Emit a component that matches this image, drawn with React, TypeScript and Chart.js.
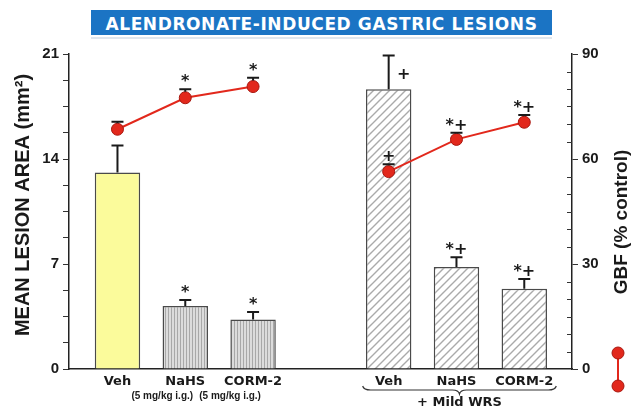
import React, { useEffect, useRef } from "react";
import { Chart, registerables } from "chart.js";

Chart.register(...registerables);

// ---- data ----
const title = "ALENDRONATE-INDUCED GASTRIC LESIONS";
const categories = ["Veh", "NaHS", "CORM-2", "", "Veh", "NaHS", "CORM-2"];
const positions = [0, 1, 2, 3, 4, 5, 6];
const groups = [0, 0, 0, -1, 1, 1, 1];
const subLabels = ["", "(5 mg/kg i.g.)", "(5 mg/kg i.g.)", "", "", "", ""];
const groupLabel = "+ Mild WRS";
const lesionArea = [13.1, 4.2, 3.3, null, 18.65, 6.8, 5.35];
const lesionSE = [1.8, 0.4, 0.5, null, 2.25, 0.65, 0.65];
const gbf = [68.5, 77.5, 80.7, null, 56.4, 65.6, 70.5];
const gbfSE = [2.15, 2.4, 2.5, null, 2.1, 1.9, 2.1];
const lesionMarks = ["", "*", "*", "", "+", "*+", "*+"];
const gbfMarks = ["", "*", "*", "", "+", "*+", "*+"];
const leftTitle = "MEAN LESION AREA (mm\u00B2)";
const rightTitle = "GBF (% control)";
const leftMax = 21;
const leftMajor = 7;
const leftMinor = 1.75;
const rightMax = 90;
const rightMajor = 30;
const rightMinor = 5;

const RED = "#e2281c";
const RED_DARK = "#a8170f";
const INK = "#1a1a1a";

function isMultiple(v: number, step: number) {
  return Math.abs(v - Math.round(v / step) * step) < 1e-6;
}

function makeStripe(): CanvasPattern | string {
  const c = document.createElement("canvas");
  c.width = 3;
  c.height = 4;
  const g = c.getContext("2d");
  if (!g) return "#d0d0d0";
  g.fillStyle = "#dcdcdc";
  g.fillRect(0, 0, 3, 4);
  g.fillStyle = "#a8a8a8";
  g.fillRect(0, 0, 1, 4);
  return g.createPattern(c, "repeat") || "#d0d0d0";
}

function makeHatch(): CanvasPattern | string {
  const c = document.createElement("canvas");
  c.width = 8;
  c.height = 8;
  const g = c.getContext("2d");
  if (!g) return "#ffffff";
  g.fillStyle = "#ffffff";
  g.fillRect(0, 0, 8, 8);
  g.strokeStyle = "#aaaaaa";
  g.lineWidth = 1.4;
  g.beginPath();
  g.moveTo(0, 8);
  g.lineTo(8, 0);
  g.moveTo(-2, 2);
  g.lineTo(2, -2);
  g.moveTo(6, 10);
  g.lineTo(10, 6);
  g.stroke();
  return g.createPattern(c, "repeat") || "#ffffff";
}

const annotationPlugin = {
  id: "annotations",
  afterDatasetsDraw(chart: any) {
    const ctx = chart.ctx;
    const xs = chart.scales.x;
    const yl = chart.scales.y;
    const yr = chart.scales.y2;
    ctx.save();
    ctx.strokeStyle = INK;
    ctx.fillStyle = INK;
    ctx.lineWidth = 2;
    ctx.textAlign = "center";
    ctx.textBaseline = "alphabetic";
    ctx.font = "bold 16px 'DejaVu Sans', sans-serif";
    const capHalf = 6;
    positions.forEach((p, i) => {
      const v = lesionArea[i];
      if (v == null) return;
      const px = xs.getPixelForValue(p);
      const top = yl.getPixelForValue(v);
      const cap = yl.getPixelForValue(v + (lesionSE[i] || 0));
      ctx.beginPath();
      ctx.moveTo(px, top);
      ctx.lineTo(px, cap);
      ctx.moveTo(px - capHalf, cap);
      ctx.lineTo(px + capHalf, cap);
      ctx.stroke();
      const m = lesionMarks[i];
      if (m) {
        if (m === "+") ctx.fillText(m, px + 15, cap + 23);
        else ctx.fillText(m, px, cap - 3);
      }
    });
    const radius = 6;
    positions.forEach((p, i) => {
      const v = gbf[i];
      if (v == null) return;
      const px = xs.getPixelForValue(p);
      const top = yr.getPixelForValue(v) - radius;
      const cap = yr.getPixelForValue(v + (gbfSE[i] || 0));
      ctx.beginPath();
      ctx.moveTo(px, top);
      ctx.lineTo(px, cap);
      ctx.moveTo(px - capHalf, cap);
      ctx.lineTo(px + capHalf, cap);
      ctx.stroke();
      const m = gbfMarks[i];
      if (m) ctx.fillText(m, px, cap - 3);
    });
    ctx.restore();
  },
  afterDraw(chart: any) {
    const ctx = chart.ctx;
    const xs = chart.scales.x;
    const yr = chart.scales.y2;
    const area = chart.chartArea;
    ctx.save();
    // right axis minor ticks (inward)
    ctx.strokeStyle = "#333";
    ctx.lineWidth = 1;
    yr.ticks.forEach((t: any) => {
      if (isMultiple(t.value, rightMajor)) return;
      const y = Math.round(yr.getPixelForValue(t.value)) + 0.5;
      ctx.beginPath();
      ctx.moveTo(area.right - 5, y);
      ctx.lineTo(area.right, y);
      ctx.stroke();
    });
    // sub labels
    ctx.fillStyle = INK;
    ctx.textAlign = "center";
    ctx.textBaseline = "middle";
    ctx.font = "bold 10px 'Liberation Sans', Arial, sans-serif";
    positions.forEach((p, i) => {
      if (!subLabels[i]) return;
      ctx.fillText(subLabels[i], xs.getPixelForValue(p) - 23, area.bottom + 27);
    });
    // brace under group 2
    const g2 = positions.filter((_, i) => groups[i] === 1);
    const x1 = xs.getPixelForValue(g2[0]) - 26;
    const x2 = xs.getPixelForValue(g2[g2.length - 1]) + 32;
    const mid = (x1 + x2) / 2;
    const by = area.bottom + 21;
    ctx.strokeStyle = "#333";
    ctx.lineWidth = 1.2;
    ctx.beginPath();
    ctx.moveTo(x1, by - 4);
    ctx.quadraticCurveTo(x1 + 1, by, x1 + 8, by);
    ctx.lineTo(mid - 7, by);
    ctx.quadraticCurveTo(mid - 1, by, mid, by + 4);
    ctx.quadraticCurveTo(mid + 1, by, mid + 7, by);
    ctx.lineTo(x2 - 8, by);
    ctx.quadraticCurveTo(x2 - 1, by, x2, by - 4);
    ctx.stroke();
    ctx.font = "bold 13px 'DejaVu Sans', sans-serif";
    ctx.fillText(groupLabel, mid, area.bottom + 34);
    // axis titles
    ctx.font = "bold 20px 'Liberation Sans', Arial, sans-serif";
    ctx.save();
    ctx.translate(23, 205);
    ctx.rotate(-Math.PI / 2);
    ctx.fillText(leftTitle, 0, 0);
    ctx.restore();
    ctx.font = "bold 19px 'Liberation Sans', Arial, sans-serif";
    ctx.save();
    ctx.translate(chart.width - 9, 222);
    ctx.rotate(-Math.PI / 2);
    ctx.fillText(rightTitle, 0, 0);
    ctx.restore();
    // legend symbol for GBF line
    const lx = chart.width - 13;
    const ly1 = 353;
    const ly2 = 386;
    ctx.strokeStyle = RED;
    ctx.lineWidth = 2;
    ctx.beginPath();
    ctx.moveTo(lx, ly1);
    ctx.lineTo(lx, ly2);
    ctx.stroke();
    ctx.fillStyle = RED;
    ctx.strokeStyle = RED_DARK;
    ctx.lineWidth = 1;
    [ly1, ly2].forEach((y) => {
      ctx.beginPath();
      ctx.arc(lx, y, 6, 0, Math.PI * 2);
      ctx.fill();
      ctx.stroke();
    });
    ctx.restore();
  },
};

export default function App() {
  const ref = useRef<HTMLCanvasElement | null>(null);

  useEffect(() => {
    if (!ref.current) return;
    const stripe = makeStripe();
    const hatch = makeHatch();
    const barIdx = positions.filter((_, i) => lesionArea[i] != null);
    const fills = barIdx.map((i) =>
      groups[i] === 1 ? hatch : categories[i] === "Veh" ? "#fbfb9b" : stripe
    );
    const tickFont = { family: "'Liberation Sans', Arial, sans-serif", size: 15, weight: "bold" as const };

    const chart = new Chart(ref.current, {
      type: "bar",
      data: {
        datasets: [
          {
            type: "line",
            label: "GBF",
            yAxisID: "y2",
            data: positions.map((p, i) => ({ x: p, y: gbf[i] })) as any,
            borderColor: RED,
            borderWidth: 2,
            pointRadius: 6,
            pointBackgroundColor: RED,
            pointBorderColor: RED_DARK,
            pointBorderWidth: 1,
            spanGaps: false,
            tension: 0,
            order: 0,
          } as any,
          {
            type: "bar",
            label: "Lesion area",
            yAxisID: "y",
            data: barIdx.map((i) => ({ x: positions[i], y: lesionArea[i] })) as any,
            backgroundColor: fills as any,
            borderColor: "#4a4a4a",
            borderWidth: 1.5,
            borderSkipped: "bottom",
            barPercentage: 0.67,
            categoryPercentage: 1,
            order: 1,
          } as any,
        ],
      },
      options: {
        animation: false,
        responsive: false,
        events: [],
        layout: { padding: { top: 54, left: 0, right: 0, bottom: 0 } },
        plugins: { legend: { display: false }, tooltip: { enabled: false }, title: { display: false } },
        scales: {
          x: {
            type: "linear",
            offset: false,
            min: -0.715,
            max: 6.704,
            grid: { display: false, drawTicks: false, offset: false },
            border: { display: true, color: "#222", width: 1.5 },
            afterBuildTicks: (s: any) => {
              s.ticks = positions.filter((_, i) => categories[i]).map((v) => ({ value: v }));
            },
            afterFit: (s: any) => {
              s.height = 42;
            },
            ticks: {
              autoSkip: false,
              maxRotation: 0,
              padding: 5,
              color: INK,
              font: { family: "'DejaVu Sans', sans-serif", size: 13, weight: "bold" },
              callback: (v: any) => {
                const i = positions.indexOf(Number(v));
                return i >= 0 ? categories[i] : "";
              },
            },
          },
          y: {
            type: "linear",
            position: "left",
            min: 0,
            max: leftMax,
            afterFit: (s: any) => {
              s.width = 69;
            },
            grid: { drawOnChartArea: false, drawTicks: true, tickLength: 6, color: "#333", lineWidth: 1 },
            border: { display: true, color: "#222", width: 1.5 },
            ticks: {
              stepSize: leftMinor,
              maxTicksLimit: 100,
              autoSkip: false,
              padding: 4,
              color: INK,
              font: tickFont,
              callback: (v: any) => (isMultiple(Number(v), leftMajor) ? String(Math.round(Number(v))) : ""),
            },
          },
          y2: {
            type: "linear",
            position: "right",
            min: 0,
            max: rightMax,
            afterFit: (s: any) => {
              s.width = 59;
            },
            grid: {
              drawOnChartArea: false,
              drawTicks: true,
              tickLength: 6,
              lineWidth: 1,
              tickColor: (c: any) => (c.tick && isMultiple(c.tick.value, rightMajor) ? "#333" : "rgba(0,0,0,0)"),
            },
            border: { display: true, color: "#222", width: 1.5 },
            ticks: {
              stepSize: rightMinor,
              maxTicksLimit: 100,
              autoSkip: false,
              padding: 4,
              color: INK,
              font: tickFont,
              callback: (v: any) => (isMultiple(Number(v), rightMajor) ? String(Math.round(Number(v))) : ""),
            },
          },
        },
      },
      plugins: [annotationPlugin],
    });
    return () => chart.destroy();
  }, []);

  return (
    <div style={{ position: "fixed", left: 0, top: 0, width: 631, height: 411, background: "#fff" }}>
      <canvas ref={ref} width={631} height={411} style={{ display: "block", width: 631, height: 411 }} />
      <div
        style={{
          position: "absolute",
          left: 91,
          top: 10,
          width: 461,
          height: 25,
          background: "#1b74c4",
          color: "#fff",
          fontFamily: "'DejaVu Sans', sans-serif",
          fontWeight: "bold",
          fontSize: 17,
          lineHeight: "29px",
          textAlign: "center",
          letterSpacing: 0.6,
          whiteSpace: "nowrap",
          overflow: "hidden",
        }}
      >
        {title}
      </div>
      <div style={{ position: "absolute", left: 91, top: 37, width: 461, height: 2, background: "#dfe6ee" }} />
    </div>
  );
}
